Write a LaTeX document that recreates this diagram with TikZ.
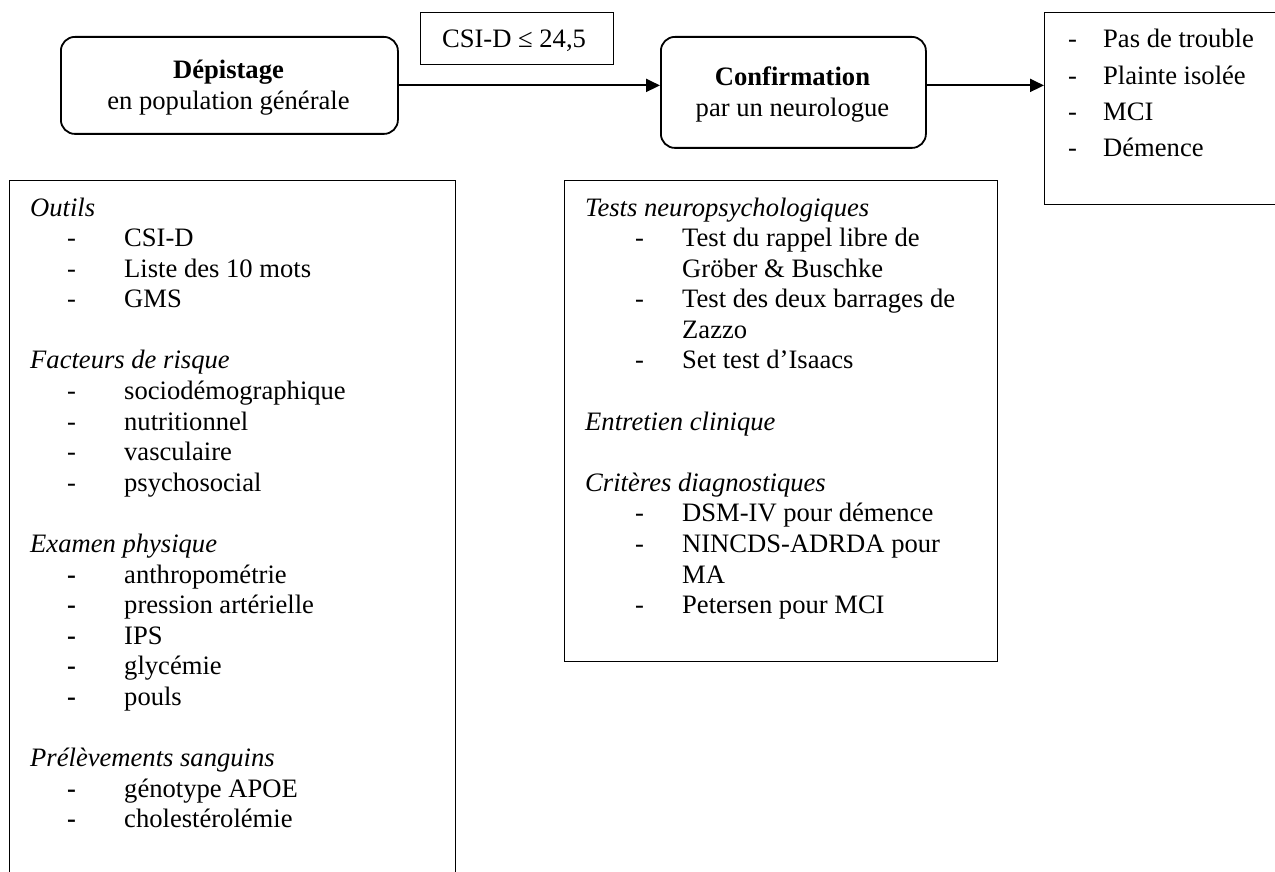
\documentclass[tikz,border=0pt]{standalone}
\usepackage{fontspec}
\setmainfont{Liberation Serif}
\usetikzlibrary{arrows.meta}
\newcommand{\fsz}[1]{\fontsize{26.6pt}{#1}\selectfont}
\newcommand{\hd}[1]{\noindent\textit{#1}\par}
\newcommand{\blankline}{\noindent\mbox{}\par}
\newcommand{\li}[3]{\noindent\hspace*{#1}\makebox[#2][l]{-}#3\par}
\newcommand{\lib}[3]{\noindent\hspace*{#1}\makebox[#2][l]{\textbf{-}}#3\par}
\newcommand{\cont}[2]{\noindent\hspace*{#1}#2\par}
\tikzset{
  roundbox/.style={draw, line width=1.8pt, rounded corners=14pt, inner sep=0pt, anchor=north west},
  plainbox/.style={draw, line width=1.4pt, inner sep=0pt, anchor=north west},
  flow/.style={line width=2pt, -{Triangle[length=14pt,width=13pt]}},
  txt/.style={inner sep=0pt, anchor=base west},
  ctxt/.style={inner sep=0pt, anchor=base},
}
\begin{document}
\begin{tikzpicture}[x=1pt,y=-1pt]
\useasboundingbox (0,0) rectangle (1275,872);
% top row boxes
\node[roundbox, minimum width=337pt, minimum height=97pt] (dep) at (60,36) {};
\node[ctxt] (deptext) at (228.5,79) {\fsz{31pt}\begin{tabular}[t]{@{}c@{}}\textbf{Dépistage}\\en population générale\end{tabular}};
\node[plainbox, minimum width=193pt, minimum height=52pt] (csi) at (420,12) {};
\node[ctxt] (csitext) at (514,48) {\fsz{31pt}CSI-D ≤ 24,5};
\node[roundbox, minimum width=265pt, minimum height=111pt] (conf) at (660,36) {};
\node[ctxt] (conftext) at (792.5,86) {\fsz{31pt}\begin{tabular}[t]{@{}c@{}}\textbf{Confirmation}\\par un neurologue\end{tabular}};
\node[plainbox, minimum width=300pt, minimum height=192pt] (res) at (1044,12) {};
\node[txt] (restext) at (1068,48) {\fsz{36.3pt}\parbox[t]{220pt}{%
\li{0pt}{35pt}{Pas de trouble}
\li{0pt}{35pt}{Plainte isolée}
\li{0pt}{35pt}{MCI}
\li{0pt}{35pt}{Démence}}};
% connectors
\draw[flow] (dep.east) -- (conf.west |- dep.east);
\draw[flow] (conf.east |- dep.east) -- (res.west |- dep.east);
% left box
\node[plainbox, minimum width=446pt, minimum height=720pt] (left) at (9,180) {};
\node[txt] (lefttext) at (30,216) {\fsz{30.6pt}\parbox[t]{420pt}{%
\hd{Outils}
\li{37pt}{57pt}{CSI-D}
\li{37pt}{57pt}{Liste des 10 mots}
\li{37pt}{57pt}{GMS}
\blankline
\hd{Facteurs de risque}
\li{37pt}{57pt}{sociodémographique}
\li{37pt}{57pt}{nutritionnel}
\li{37pt}{57pt}{vasculaire}
\li{37pt}{57pt}{psychosocial}
\blankline
\hd{Examen physique}
\lib{37pt}{57pt}{anthropométrie}
\lib{37pt}{57pt}{pression artérielle}
\lib{37pt}{57pt}{IPS}
\lib{37pt}{57pt}{glycémie}
\lib{37pt}{57pt}{pouls}
\blankline
\hd{Prélèvements sanguins}
\lib{37pt}{57pt}{génotype APOE}
\lib{37pt}{57pt}{cholestérolémie}}};
% middle box
\node[plainbox, minimum width=433pt, minimum height=481pt] (mid) at (564,180) {};
\node[txt] (midtext) at (585,216) {\fsz{30.6pt}\parbox[t]{410pt}{%
\hd{Tests neuropsychologiques}
\li{50pt}{47pt}{Test du rappel libre de}
\cont{97pt}{Gröber \& Buschke}
\li{50pt}{47pt}{Test des deux barrages de}
\cont{97pt}{Zazzo}
\li{50pt}{47pt}{Set test d’Isaacs}
\blankline
\hd{Entretien clinique}
\blankline
\hd{Critères diagnostiques}
\li{50pt}{47pt}{DSM-IV pour démence}
\li{50pt}{47pt}{NINCDS-ADRDA pour}
\cont{97pt}{MA}
\li{50pt}{47pt}{Petersen pour MCI}}};
\end{tikzpicture}
\end{document}
